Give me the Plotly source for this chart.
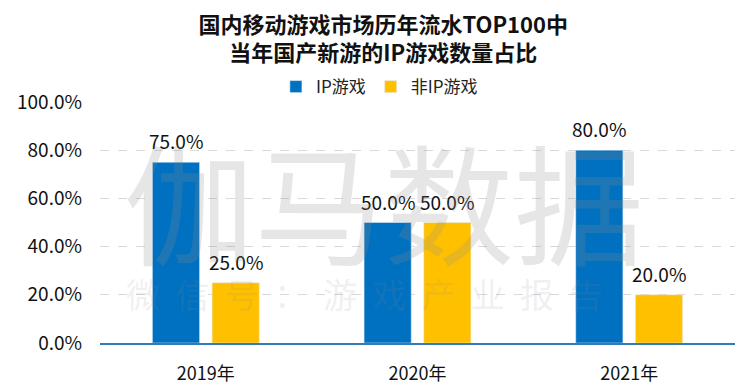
import plotly.graph_objects as go

categories = ["2019年", "2020年", "2021年"]
ip_values = [75.0, 50.0, 80.0]
non_ip_values = [25.0, 50.0, 20.0]
series_names = ["IP游戏", "非IP游戏"]
tick_vals = [0, 20, 40, 60, 80, 100]
tick_text = ["0.0%", "20.0%", "40.0%", "60.0%", "80.0%", "100.0%"]

FONT = "Noto Sans CJK SC, Microsoft YaHei, sans-serif"
W, H = 750, 392
ML, MR, MT, MB = 100, 15, 102, 49
BARGAP, GROUPGAP = 0.436, 0.21

fig = go.Figure()
fig.add_trace(go.Bar(x=categories, y=ip_values, name=series_names[0], marker_color="#0070C0"))
fig.add_trace(go.Bar(x=categories, y=non_ip_values, name=series_names[1], marker_color="#FFC000"))

# value labels (annotations placed at the bar tops, shifted to each bar's slot)
plot_w = W - ML - MR
slot = plot_w / len(categories) * (1 - BARGAP) / 2
for k, vals in enumerate([ip_values, non_ip_values]):
    off = (k - 0.5) * slot
    for c, v in zip(categories, vals):
        fig.add_annotation(
            x=c, y=v, xref="x", yref="y", text=f"{v:.1f}%", showarrow=False,
            xanchor="center", yanchor="bottom", xshift=off, yshift=6,
            font=dict(size=19, family=FONT, color="#111111"),
        )

fig.update_layout(
    width=W, height=H,
    margin=dict(l=ML, r=MR, t=MT, b=MB),
    paper_bgcolor="white", plot_bgcolor="white",
    font=dict(family=FONT, color="#111111"),
    barmode="group", bargap=BARGAP, bargroupgap=GROUPGAP,
    title=dict(
        text="<b>国内移动游戏市场历年流水TOP100中</b><br><b>当年国产新游的IP游戏数量占比</b>",
        x=0.511, xref="container", xanchor="center", y=0.917, yanchor="top",
        font=dict(size=22, family=FONT, color="#111111"),
    ),
    legend=dict(
        orientation="h", x=0.277, xanchor="left", y=1.062, yanchor="middle",
        font=dict(size=17, family=FONT, color="#222222"),
        itemwidth=30, bgcolor="rgba(0,0,0,0)",
    ),
    xaxis=dict(
        showgrid=False, showline=True, linecolor="#2E7DB8", linewidth=1.5,
        tickfont=dict(size=18, family=FONT, color="#111111"),
        ticks="", ticklabelstandoff=14, automargin=False,
    ),
    yaxis=dict(
        range=[0, 100], tickvals=tick_vals, ticktext=tick_text,
        showgrid=True, gridcolor="#D9D9D9", griddash="dash", gridwidth=1,
        zeroline=False, showline=False,
        tickfont=dict(size=19, family=FONT, color="#111111"),
        ticklabelstandoff=17, automargin=False,
    ),
)

# watermark
fig.add_annotation(
    text="伽马数据", xref="paper", yref="paper", x=0.447, y=0.603,
    xanchor="center", yanchor="middle",
    showarrow=False, font=dict(size=130, family=FONT, color="rgba(140,140,140,0.22)"),
)
fig.add_annotation(
    text="微  信  号  ：  游  戏  产  业  报  告", xref="paper", yref="paper", x=0.416, y=0.207,
    xanchor="center", yanchor="middle",
    showarrow=False, font=dict(size=34, family=FONT, color="rgba(140,140,140,0.15)"),
)

fig.write_html("out.html", config={"displayModeBar": False},
               post_script="document.body.style.margin='0px';")
